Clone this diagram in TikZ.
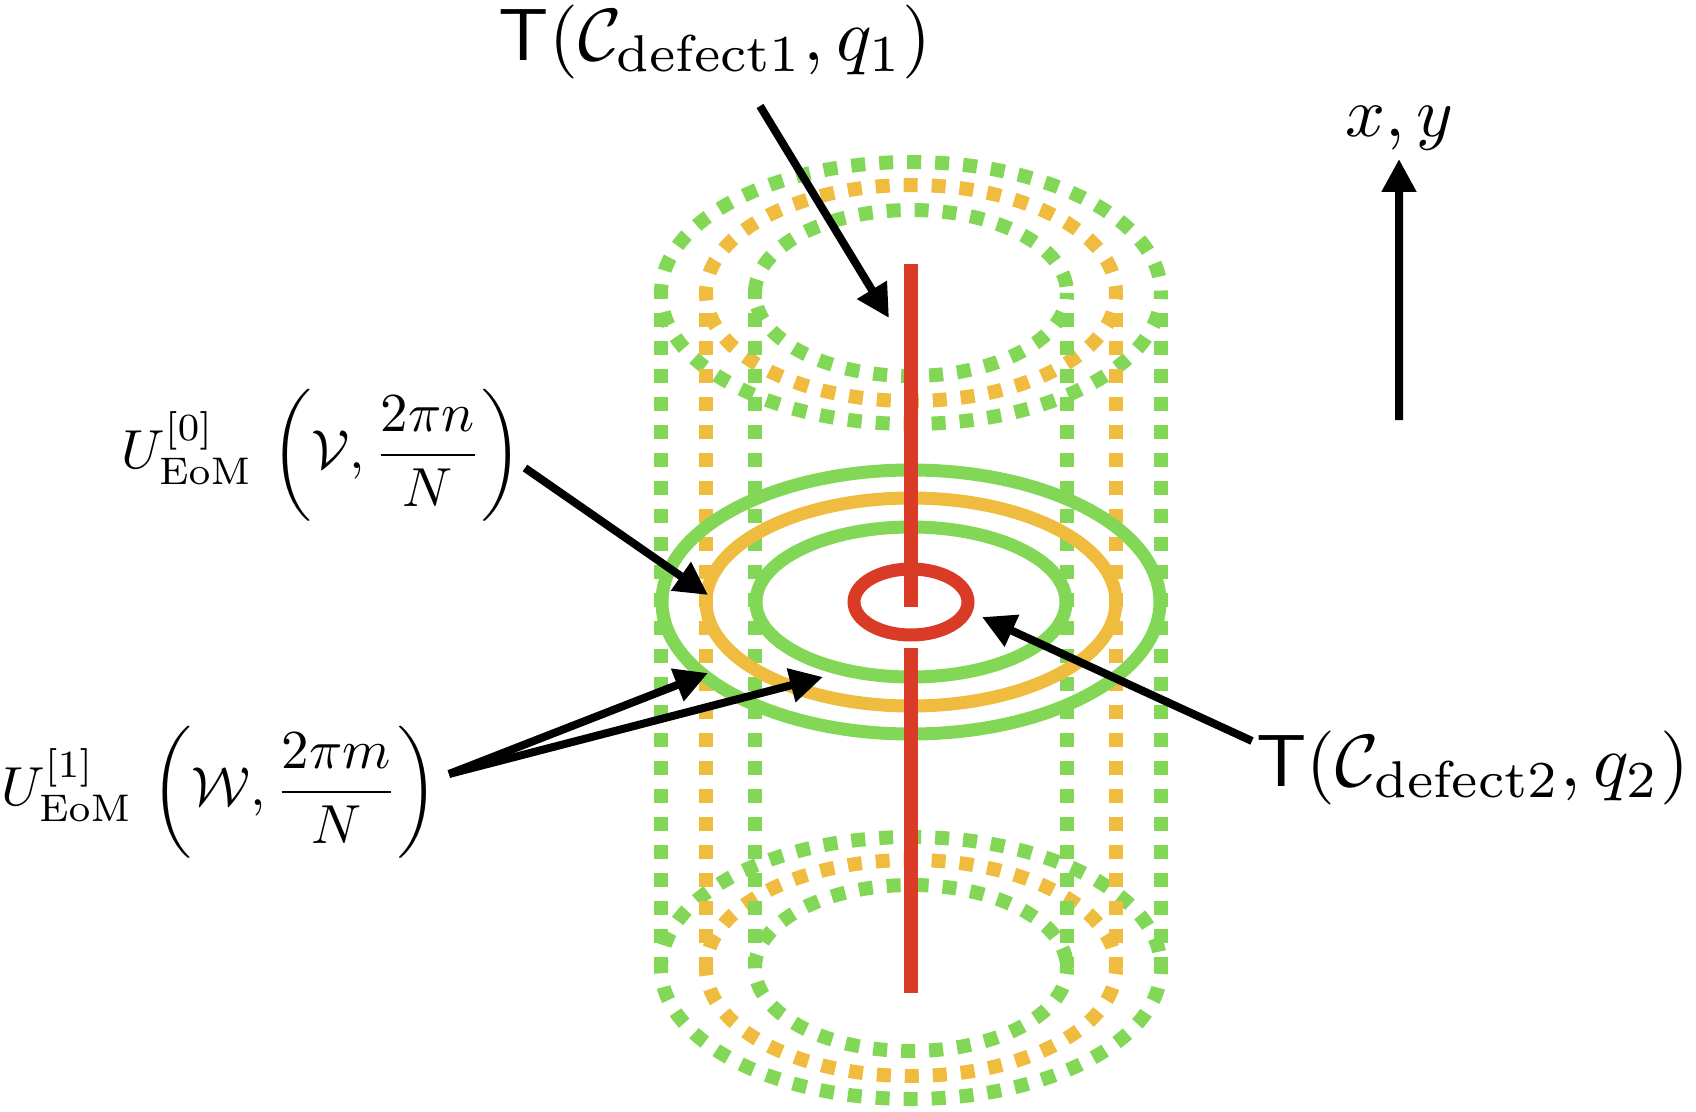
\documentclass[tikz,border=0pt]{standalone}
\usepackage{amsmath,amssymb}
\usepackage{tikz}
\usetikzlibrary{arrows.meta}
\definecolor{defectred}{RGB}{217,59,38}
\definecolor{fieldgreen}{RGB}{130,216,86}
\definecolor{fieldorange}{RGB}{240,188,64}

\begin{document}
\begin{tikzpicture}[x=0.5pt, y=-0.5pt,
    lbl/.style={inner sep=0pt, scale=3.7},
    eqlbl/.style={inner sep=0pt, scale=2.75},
    dotline/.style={line width=7pt, dash pattern=on 7pt off 7pt, dash phase=4pt},
    ring/.style={line width=6.5pt},
    pointer/.style={line width=4pt, -{Triangle[length=16.5pt,width=16.5pt]}}]
    \useasboundingbox (0,0) rectangle (1696,1112);

    % Tapas punteadas (arriba y abajo)
    \foreach \cy in {293,968} {
        \draw[dotline, fieldgreen] (911,\cy) ellipse [x radius=250, y radius=131];
        \draw[dotline, fieldorange] (911,\cy) ellipse [x radius=205, y radius=108];
        \draw[dotline, fieldgreen] (911,\cy) ellipse [x radius=156, y radius=83];
    }

    % Paredes punteadas
    \foreach \x/\c in {661/fieldgreen, 1161/fieldgreen, 706/fieldorange, 1116/fieldorange, 755/fieldgreen, 1067/fieldgreen} {
        \draw[dotline, \c] (\x,293) -- (\x,968);
    }

    % Anillos centrales
    \draw[ring, fieldgreen] (911,602) ellipse [x radius=249, y radius=132];
    \draw[ring, fieldorange] (911,602) ellipse [x radius=205, y radius=104];
    \draw[ring, fieldgreen] (911,602) ellipse [x radius=155, y radius=75];

    % Defectos
    \draw[line width=7pt, defectred] (911,264) -- (911,607);
    \draw[line width=7pt, defectred] (911,648) -- (911,993);
    \draw[ring, defectred] (911,602) ellipse [x radius=57, y radius=33];

    % Etiquetas
    \node[lbl, anchor=south] (tq1) at (715,80) {$\mathsf{T}(\mathcal{C}_{\mathrm{defect1}}, q_1)$};
    \node[eqlbl, anchor=east] (u0) at (523,455) {$U^{[0]}_{\mathrm{EoM}}\,\left(\mathcal{V}, \dfrac{2\pi n}{N}\right)$};
    \node[eqlbl, anchor=east] (u1) at (439,792) {$U^{[1]}_{\mathrm{EoM}}\,\left(\mathcal{W}, \dfrac{2\pi m}{N}\right)$};
    \node[lbl, anchor=west] (tq2) at (1255,768) {$\mathsf{T}(\mathcal{C}_{\mathrm{defect2}}, q_2)$};
    \node[inner sep=1pt, scale=3.5, anchor=south] (xy) at (1399,159) {$x, y$};

    % Puntas de flecha
    \coordinate (t1) at (889,318);
    \coordinate (t2) at (708,595);
    \coordinate (t3a) at (708,673);
    \coordinate (t3b) at (823,677);
    \coordinate (t4) at (982,617);
    \coordinate (axis) at (1399,420);

    % Flechas
    \draw[pointer] ([xshift=22.5pt,yshift=-13pt]tq1.south) -- (t1);
    \draw[pointer] ([xshift=1pt,yshift=-6.5pt]u0.east) -- (t2);
    \draw[pointer] ([xshift=5pt,yshift=9pt]u1.east) -- (t3a);
    \draw[pointer] ([xshift=5pt,yshift=9pt]u1.east) -- (t3b);
    \draw[pointer] ([xshift=-1.5pt,yshift=13.5pt]tq2.west) -- (t4);
    \draw[pointer] (axis) -- (xy);
\end{tikzpicture}
\end{document}
